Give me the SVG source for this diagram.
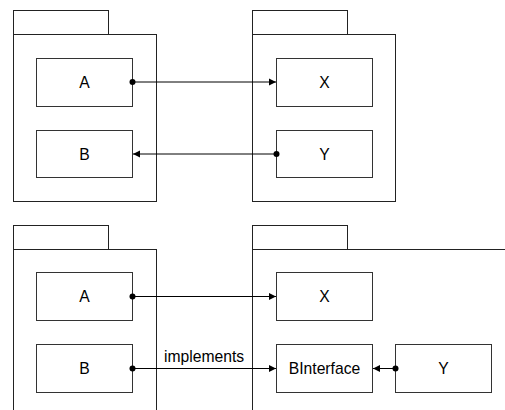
<svg xmlns="http://www.w3.org/2000/svg" width="505" height="410" viewBox="0 0 505 410">
<style>
.pkg{fill:#fff;stroke:#222;stroke-width:1}
.box{fill:#fff;stroke:#333;stroke-width:1}
.lbl{font-family:"Liberation Sans",Arial,sans-serif;font-size:15.7px;fill:#000;text-anchor:middle}
.conn{fill:none;stroke:#000;stroke-width:1}
</style>
<defs>
<marker id="arr" markerWidth="8" markerHeight="8" refX="7" refY="4" orient="auto" markerUnits="userSpaceOnUse">
<path d="M0,0.5 L7,4 L0,7.5 Z" fill="#000"/>
</marker>
<marker id="dot" markerWidth="8" markerHeight="8" refX="4" refY="4" markerUnits="userSpaceOnUse">
<circle cx="4" cy="4" r="3" fill="#000"/>
</marker>
</defs>
<g id="pkg1">
<rect class="pkg" x="13.5" y="10.5" width="95" height="24"/>
<rect class="pkg" x="13.5" y="34.5" width="143" height="167"/>
</g>
<g id="pkg2">
<rect class="pkg" x="252.5" y="10.5" width="95" height="24"/>
<rect class="pkg" x="252.5" y="34.5" width="143" height="167"/>
</g>
<g id="pkg3">
<rect class="pkg" x="13.5" y="225.5" width="95" height="24"/>
<rect class="pkg" x="13.5" y="249.5" width="143" height="200"/>
</g>
<g id="pkg4">
<rect class="pkg" x="252.5" y="225.5" width="95" height="24"/>
<rect class="pkg" x="252.5" y="249.5" width="300" height="200"/>
</g>
<g id="A1"><rect class="box" x="36.5" y="58.5" width="96" height="48"/><text class="lbl" x="84.5" y="88">A</text></g>
<g id="B1"><rect class="box" x="36.5" y="130.5" width="96" height="47"/><text class="lbl" x="84.5" y="160">B</text></g>
<g id="X1"><rect class="box" x="276.5" y="58.5" width="96" height="48"/><text class="lbl" x="324.5" y="88">X</text></g>
<g id="Y1"><rect class="box" x="276.5" y="130.5" width="96" height="47"/><text class="lbl" x="324.5" y="160">Y</text></g>
<g id="A2"><rect class="box" x="36.5" y="272.5" width="96" height="48"/><text class="lbl" x="84.5" y="302">A</text></g>
<g id="B2"><rect class="box" x="36.5" y="344.5" width="96" height="48"/><text class="lbl" x="84.5" y="374">B</text></g>
<g id="X2"><rect class="box" x="276.5" y="272.5" width="96" height="48"/><text class="lbl" x="324.5" y="302">X</text></g>
<g id="BI2"><rect class="box" x="276.5" y="344.5" width="96" height="48"/><text class="lbl" x="324.5" y="374">BInterface</text></g>
<g id="Y2"><rect class="box" x="395.5" y="344.5" width="96" height="48"/><text class="lbl" x="443.5" y="374">Y</text></g>
<g id="connectors">
<line class="conn" x1="132.5" y1="82" x2="276" y2="82" marker-start="url(#dot)" marker-end="url(#arr)"/>
<line class="conn" x1="276.5" y1="154" x2="133" y2="154" marker-start="url(#dot)" marker-end="url(#arr)"/>
<line class="conn" x1="132.5" y1="296.5" x2="276" y2="296.5" marker-start="url(#dot)" marker-end="url(#arr)"/>
<line class="conn" x1="132.5" y1="368.5" x2="276" y2="368.5" marker-start="url(#dot)" marker-end="url(#arr)"/>
<line class="conn" x1="395.5" y1="368.5" x2="373" y2="368.5" marker-start="url(#dot)" marker-end="url(#arr)"/>
<text class="lbl" x="204" y="362">implements</text>
</g>
</svg>
